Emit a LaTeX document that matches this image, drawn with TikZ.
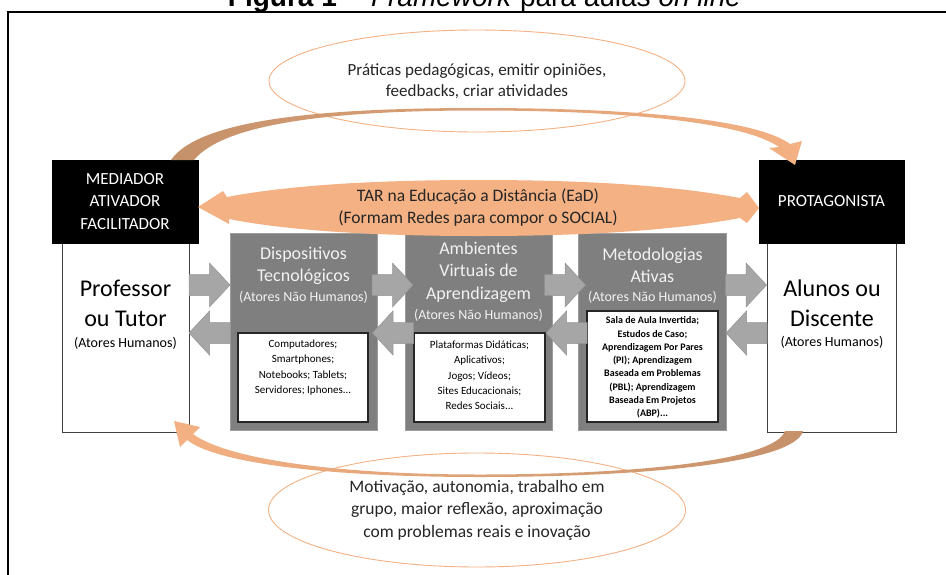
\documentclass[tikz,border=0pt]{standalone}
\usepackage{fontspec}
\setmainfont{Carlito}
\newfontfamily\titlefont{Liberation Sans}
\usetikzlibrary{shapes.geometric}
\definecolor{tarfill}{HTML}{F4B183}
\definecolor{arcdark}{HTML}{C5916A}
\definecolor{arclight}{HTML}{F4B183}
\definecolor{ellline}{HTML}{F4B183}
\definecolor{greyfill}{HTML}{7F7F7F}
\definecolor{greyedge}{HTML}{9C9C9C}
\definecolor{arrowfill}{HTML}{A6A6A6}
\definecolor{arrowedge}{HTML}{939393}
\definecolor{greytext}{HTML}{F2F2F2}
\definecolor{darktext}{HTML}{262626}
\begin{document}
\begin{tikzpicture}[x=1pt,y=-1pt,
  ellnode/.style={ellipse,draw=ellline,line width=0.9pt,inner sep=0pt,align=center,text=darktext},
  blackbox/.style={rectangle,fill=black,draw=black,text=white,inner sep=0pt,align=center,
    font=\fontsize{17}{22.5}\selectfont},
  humanbox/.style={rectangle,fill=white,draw=black!75,line width=0.8pt,inner sep=0pt},
  greybox/.style={rectangle,fill=greyfill,draw=greyedge,line width=0.8pt,inner sep=0pt},
  innerbox/.style={rectangle,fill=white,draw=black!85,line width=1.2pt,inner sep=0pt},
  greytitle/.style={text=greytext,align=center,inner sep=0pt,font=\fontsize{18}{22.5}\selectfont},
  greysub/.style={text=greytext,align=center,inner sep=0pt,font=\fontsize{14}{16}\selectfont},
  innertext/.style={text=black,align=center,inner sep=0pt,font=\fontsize{11}{15.3}\selectfont},
  blockfill/.style={fill=arrowfill,draw=arrowedge,line width=0.5pt},
  pics/blockarrow/.style={code={
    \filldraw[blockfill] (-20.5,-10.5) -- (0,-10.5) -- (0,-22) -- (20.5,0) -- (0,22) -- (0,10.5)
      -- (-20.5,10.5) -- cycle;}},
]
\useasboundingbox (0,0) rectangle (946,574);
\fill[white] (0,0) rectangle (946,574);

% title (cut by the page edge as in the reference)
\node[anchor=base,inner sep=0pt,font=\titlefont\fontsize{28}{30}\selectfont] (title) at (484.5,6)
  {\textbf{Figura 1} -- \textit{Framework} para aulas \textit{on line}};
% frame
\draw[line width=1.3pt] (8,620) -- (8,12) -- (980,12);

% ellipses
\node[ellnode,minimum width=416pt,minimum height=102pt,font=\fontsize{17}{21.5}\selectfont] (topell) at (477,81)
  {Práticas pedagógicas, emitir opiniões,\\feedbacks, criar atividades};
\node[ellnode,minimum width=417pt,minimum height=114pt,font=\fontsize{17.5}{22.5}\selectfont] (botell) at (477,510)
  {Motivação, autonomia, trabalho em\\grupo, maior reflexão, aproximação\\com problemas reais e inovação};

% grey boxes
\node[greybox,minimum width=147pt,minimum height=197pt] (disp) at (303.5,331.5) {};
\node[greybox,minimum width=147pt,minimum height=197pt] (amb) at (478.5,331.5) {};
\node[greybox,minimum width=148pt,minimum height=197pt] (met) at (652,331.5) {};
\node[greytitle] (dispt) at (303.5,266) {Dispositivos\\Tecnológicos};
\node[greysub] (disps) at (303.5,297) {(Atores Não Humanos)};
\node[greytitle] (ambt) at (478.5,272) {Ambientes\\Virtuais de\\Aprendizagem};
\node[greysub] (ambs) at (478.5,315) {(Atores Não Humanos)};
\node[greytitle] (mett) at (652.5,265.5) {Metodologias\\Ativas};
\node[greysub] (mets) at (652.5,297) {(Atores Não Humanos)};

% inner boxes
\node[innerbox,minimum width=130pt,minimum height=89pt] (dispi) at (303,377.5) {};
\node[innertext] (dispx) at (303,367.5) {Computadores;\\Smartphones;\\Notebooks; Tablets;\\Servidores; Iphones...};
\node[innerbox,minimum width=131pt,minimum height=89pt] (ambi) at (479.5,377.5) {};
\node[innertext] (ambx) at (479.5,375.5) {Plataformas Didáticas;\\Aplicativos;\\Jogos; Vídeos;\\Sites Educacionais;\\Redes Sociais...};
\node[innerbox,minimum width=131pt,minimum height=111pt] (meti) at (652.5,366.5) {};
\node[innertext,font=\fontsize{10}{13.3}\selectfont\bfseries] (metx) at (652.5,367.5)
  {Sala de Aula Invertida;\\Estudos de Caso;\\Aprendizagem Por Pares\\(PI); Aprendizagem\\Baseada em Problemas\\(PBL); Aprendizagem\\Baseada Em Projetos\\(ABP)...};

% human boxes
\node[humanbox,minimum width=127pt,minimum height=189pt] (prof) at (125.5,337.5) {};
\node[inner sep=0pt,align=center,font=\fontsize{24}{30}\selectfont] (proft) at (125.5,303) {Professor\\ou Tutor};
\node[inner sep=0pt,font=\fontsize{14}{16}\selectfont] (profs) at (125.5,343) {(Atores Humanos)};
\node[humanbox,minimum width=129pt,minimum height=189pt] (alu) at (831.5,337.5) {};
\node[inner sep=0pt,align=center,font=\fontsize{24}{30}\selectfont] (alut) at (832,303) {Alunos ou\\Discente};
\node[inner sep=0pt,font=\fontsize{14}{16}\selectfont] (alus) at (832,342) {(Atores Humanos)};

% black boxes
\node[blackbox,minimum width=146pt,minimum height=83pt] (med) at (125,201.5) {MEDIADOR\\ATIVADOR\\FACILITADOR};
\node[blackbox,minimum width=145pt,minimum height=83pt] (prot) at (831.5,201.5) {PROTAGONISTA};

% block arrows (right: forward, left: backward)
\pic at (209.5,285) {blockarrow};
\pic at (392.5,285) {blockarrow};
\pic at (565,285) {blockarrow};
\pic at (746,285) {blockarrow};
\pic[xscale=-1] at (209.5,333) {blockarrow};
\pic[xscale=-1] at (393,333) {blockarrow};
\pic[xscale=-1] at (566.5,333) {blockarrow};
\pic[xscale=-1] at (746.5,333) {blockarrow};

% TAR double arrow
\fill[tarfill] (198,207) -- (223,191) -- (227,197)
  .. controls (300,183) and (400,180) .. (478,180)
  .. controls (560,180) and (660,183) .. (740,198)
  -- (747,192) -- (759,208) -- (747,223) -- (740,218)
  .. controls (660,233) and (560,236) .. (478,236)
  .. controls (400,236) and (300,233) .. (229,219)
  -- (229,224) -- cycle;
\node[inner sep=0pt,align=center,text=darktext,font=\fontsize{17.5}{22}\selectfont] (tar) at (478,208)
  {TAR na Educação a Distância (EaD)\\(Formam Redes para compor o SOCIAL)};

% top curved arrow (mediador -> protagonista)
\shade[left color=arcdark,right color=arclight]
  (171,160) .. controls (200,118) and (330,108) .. (478,108)
  .. controls (640,108) and (758,120) .. (790,144)
  -- (802,141) -- (795,165) -- (769,148) -- (779,147)
  .. controls (745,123) and (630,110.5) .. (478,110.5)
  .. controls (340,110.5) and (225,122) .. (194,160) -- cycle;

% bottom curved arrow (alunos -> professor)
\shade[left color=arclight,right color=arcdark]
  (803,431) .. controls (795,462) and (650,477) .. (480,477)
  .. controls (320,477) and (215,462) .. (187,440)
  -- (180,447) -- (174,421) -- (200,427) -- (193,434)
  .. controls (225,458) and (330,474.5) .. (480,474.5)
  .. controls (640,474.5) and (775,460) .. (785,431) -- cycle;
\end{tikzpicture}
\end{document}
